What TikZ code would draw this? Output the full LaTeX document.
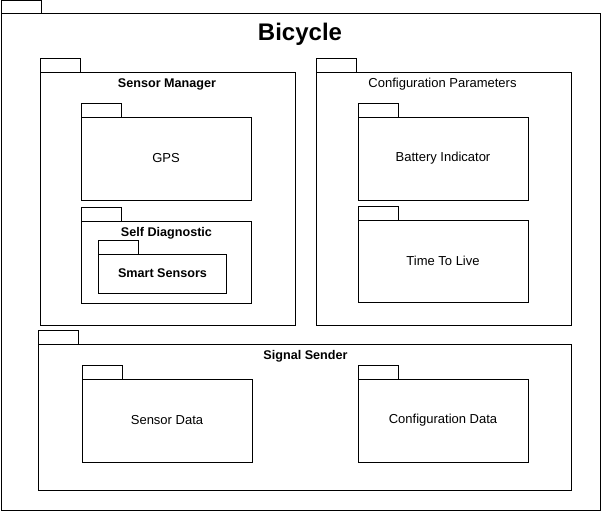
\documentclass[tikz,border=0pt]{standalone}
\usepackage{fontspec}
\setmainfont{Liberation Sans}
\usetikzlibrary{positioning}
\tikzset{
  pkgbox/.style={draw, line width=1pt, rectangle, anchor=north west,
    inner sep=0pt, outer sep=0pt, font=\fontsize{13}{15}\selectfont},
  pkgtab/.style={draw, line width=1pt, rectangle, anchor=south west,
    inner sep=0pt, outer sep=0pt, minimum width=40pt, minimum height=13.5pt},
  pkgtitle/.style={font=\fontsize{12.6}{15}\selectfont\bfseries, inner sep=0pt},
  pkgplain/.style={font=\fontsize{13}{15}\selectfont, inner sep=0pt},
}
\newcommand{\pkgtabof}[1]{\node[pkgtab] (#1tab) at (#1.north west) {};}

\begin{document}
\begin{tikzpicture}[x=1pt,y=-1pt]
  \useasboundingbox (0,0) rectangle (601,511);
  % Outer package
  \node[pkgbox, minimum width=599pt, minimum height=496pt] (bike) at (1,14) {};
  \node[pkgtab, minimum height=13pt] (biketab) at (bike.north west) {};
  \node[font=\fontsize{24}{28}\selectfont\bfseries, inner sep=0pt] (bikelbl) at (300,34.5) {Bicycle};
  % Sensor Manager
  \node[pkgbox, minimum width=255pt, minimum height=253pt] (sm) at (40,72) {};
  \pkgtabof{sm}
  \node[pkgtitle] (smlbl) at (167,84.5) {Sensor Manager};
  \node[pkgbox, minimum width=170pt, minimum height=83pt] (gps) at (81,117) {GPS};
  \pkgtabof{gps}
  \node[pkgbox, minimum width=170pt, minimum height=82pt] (sd) at (81,221) {};
  \pkgtabof{sd}
  \node[pkgtitle] (sdlbl) at (166.5,233.5) {Self Diagnostic};
  \node[pkgbox, minimum width=128pt, minimum height=39pt] (ss) at (98,254) {};
  \pkgtabof{ss}
  \node[pkgtitle] (sslbl) at (162.5,273) {Smart Sensors};
  % Configuration Parameters
  \node[pkgbox, minimum width=255pt, minimum height=253pt] (cp) at (316,72) {};
  \pkgtabof{cp}
  \node[pkgplain] (cplbl) at (442.5,84.5) {Configuration Parameters};
  \node[pkgbox, minimum width=170pt, minimum height=83pt] (bat) at (358,117) {Battery Indicator};
  \pkgtabof{bat}
  \node[pkgbox, minimum width=170pt, minimum height=82pt] (ttl) at (358,220) {Time To Live};
  \pkgtabof{ttl}
  % Signal Sender
  \node[pkgbox, minimum width=533pt, minimum height=146pt] (sig) at (38,344) {};
  \pkgtabof{sig}
  \node[pkgtitle] (siglbl) at (305.5,356.5) {Signal Sender};
  \node[pkgbox, minimum width=170pt, minimum height=83pt] (sdat) at (82,379) {Sensor Data};
  \pkgtabof{sdat}
  \node[pkgbox, minimum width=170pt, minimum height=83pt] (cdat) at (358,379) {Configuration Data};
  \pkgtabof{cdat}
\end{tikzpicture}
\end{document}
